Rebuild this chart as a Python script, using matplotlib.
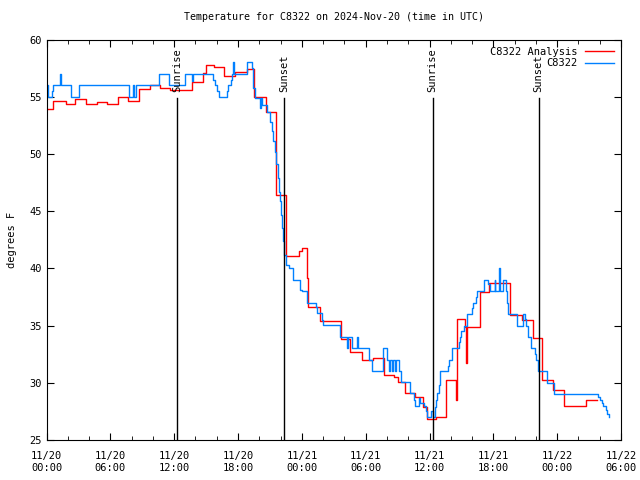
import matplotlib
matplotlib.use('Agg')
import matplotlib.pyplot as plt
from matplotlib.ticker import MultipleLocator

# hours since 2024-11-20 00:00 UTC
analysis_hours = [0, 0.6, 1.8, 2.7, 3.7, 4.7, 5.7, 6.7, 7.7, 8.7, 9.7, 10.7, 11.6, 13.7, 14.7,
                  15.0, 15.7, 16.7, 17.7, 18.8, 19.5, 20.6, 21.6, 22.55, 23.7, 24.0, 24.5, 24.6,
                  25.7, 27.7, 28.55, 29.65, 30.7, 31.7, 32.7, 33.0, 33.65, 34.65, 35.4, 35.75,
                  36.6, 37.55, 38.45, 38.55, 39.35, 39.45, 39.55, 40.7, 41.6, 43.6, 44.7, 45.7,
                  46.6, 47.6, 48.6, 50.7, 51.7]
analysis_temp = [53.9, 54.6, 54.4, 54.8, 54.4, 54.5, 54.4, 55.0, 54.6, 55.7, 56.0, 55.8, 55.6, 56.3, 57.1,
                 57.8, 57.6, 56.8, 57.2, 57.4, 55.0, 53.7, 46.4, 41.1, 41.5, 41.8, 39.2, 36.6,
                 35.4, 33.8, 32.7, 32.0, 32.2, 30.7, 30.5, 30.1, 29.1, 28.8, 27.9, 26.8,
                 27.0, 30.25, 28.5, 35.6, 34.9, 31.7, 34.9, 37.9, 38.7, 35.9, 35.5, 33.9,
                 30.25, 29.4, 28.0, 28.5, 28.5]

obs_hours = [0.0, 0.1, 0.5, 0.6, 1.3, 1.4, 2.27, 3.08, 7.78, 8.1, 8.25, 8.4, 10.6, 11.53, 13.0,
             13.7, 13.75, 15.67, 15.85, 16.0, 16.25, 17.0, 17.1, 17.3, 17.4, 17.55, 17.65, 18.85,
             19.27, 19.4, 19.6, 20.1, 20.2, 20.3, 20.7, 21.0, 21.15, 21.3, 21.45, 21.6, 21.75,
             21.85, 21.9, 22.0, 22.15, 22.2, 22.35, 22.5, 22.75, 23.2, 23.8, 24.0, 24.45, 25.3,
             25.45, 25.85, 26.0, 27.6, 28.25, 28.3, 28.7, 29.2, 29.25, 30.3, 30.55, 31.6, 32.0,
             32.15, 32.25, 32.45, 32.55, 32.75, 32.85, 33.1, 33.3, 34.15, 34.5, 34.65, 35.05,
             35.15, 35.45, 35.65, 35.8, 36.1, 36.3, 36.5, 36.6, 36.7, 36.85, 36.95, 37.0, 37.7,
             37.8, 38.1, 38.15, 38.8, 38.9, 39.0, 39.2, 39.5, 39.55, 39.95, 40.05, 40.4, 40.45,
             41.1, 41.5, 41.65, 42.15, 42.2, 42.5, 42.55, 42.65, 42.95, 43.2, 43.3, 43.4, 44.2,
             44.75, 44.95, 45.1, 45.3, 45.5, 45.9, 46.0, 46.2, 47.0, 47.7, 51.85, 52.0, 52.2,
             52.35, 52.6, 52.7, 52.85, 52.9]
obs_temp = [56, 55, 55.5, 56, 57, 56, 55, 56, 55, 56, 55, 56, 57, 56, 57,
            56.4, 57, 56.5, 56, 55.5, 55, 55.5, 56, 56.5, 57, 58, 57, 58,
            57.5, 55.8, 54.9, 54.0, 54.9, 54.3, 53.7, 52.8, 52.0, 51.1, 50.2, 49.1, 47.9,
            46.7, 45.85, 44.7, 43.5, 42.35, 41.2, 40.3, 40.0, 39.0, 38.1, 38.0, 37.0, 36.6,
            36.1, 35.5, 35.06, 34.0, 33.0, 34.0, 33.0, 34.0, 33.0, 32.0, 31.0, 33.0, 32.0,
            31.0, 32.0, 31.0, 32.0, 31.0, 32.0, 31.0, 30.1, 29.1, 28.5, 28.0, 28.7,
            28.2, 28.0, 27.5, 27.0, 27.5, 27.0, 27.9, 28.5, 29.1, 29.8, 30.5, 31.0, 31.5,
            32.0, 32.5, 33.0, 33.6, 34.0, 34.5, 35.0, 35.6, 36.0, 36.5, 37.0, 37.5, 38.0,
            38.95, 38.6, 38.0, 38.95, 38.0, 39.6, 40.0, 38.0, 38.95, 38.0, 37.0, 36.0, 35.0,
            36.0, 35.6, 35.0, 34.0, 33.0, 32.5, 32.0, 31.0, 30.0, 29.0, 28.8, 28.5, 28.2,
            28.0, 27.6, 27.3, 27.0, 27.0]

sun_hours = [12.26, 22.3, 36.3, 46.25]
sun_labels = ['Sunrise', 'Sunset', 'Sunrise', 'Sunset']

tick_hours = [0, 6, 12, 18, 24, 30, 36, 42, 48, 54]
tick_labels = ['11/20\n00:00', '11/20\n06:00', '11/20\n12:00', '11/20\n18:00', '11/21\n00:00',
               '11/21\n06:00', '11/21\n12:00', '11/21\n18:00', '11/22\n00:00', '11/22\n06:00']

plt.rcParams['font.family'] = 'DejaVu Sans Mono'
fs = 7.2

fig = plt.figure(figsize=(6.4, 4.8), dpi=100)
ax = fig.add_axes([0.0727, 0.0833, 0.8976, 0.8344])

ax.plot(analysis_hours, analysis_temp, drawstyle='steps-post', color='#ff0000', lw=1.0,
        label='C8322 Analysis')
ax.plot(obs_hours, obs_temp, drawstyle='steps-post', color='#0080ff', lw=1.0, label='C8322')

for h, lab in zip(sun_hours, sun_labels):
    ax.plot([h, h], [25, 54.9], color='black', lw=1.0)
    ax.text(h, 55.4, lab, rotation=90, ha='center', va='bottom', fontsize=fs + 0.3)

ax.set_xlim(0, 54)
ax.set_ylim(25, 60)
ax.set_xticks(tick_hours, labels=tick_labels)
ax.xaxis.set_minor_locator(MultipleLocator(2))
ax.yaxis.set_major_locator(MultipleLocator(5))
ax.tick_params(which='both', direction='in', top=True, right=True, labelsize=fs + 0.3)
ax.tick_params(which='major', length=5)
ax.tick_params(which='minor', length=3)
ax.tick_params(axis='x', pad=8)

ax.set_title('Temperature for C8322 on 2024-Nov-20 (time in UTC)', fontsize=fs, pad=14)
ax.set_ylabel('degrees F', fontsize=fs + 0.3, labelpad=9)

ax.legend(loc='upper right', frameon=False, markerfirst=False, handlelength=2.8,
          fontsize=fs + 0.3, labelspacing=0.15, borderaxespad=0.3, handletextpad=0.7)

fig.savefig('out.png', dpi=100)
